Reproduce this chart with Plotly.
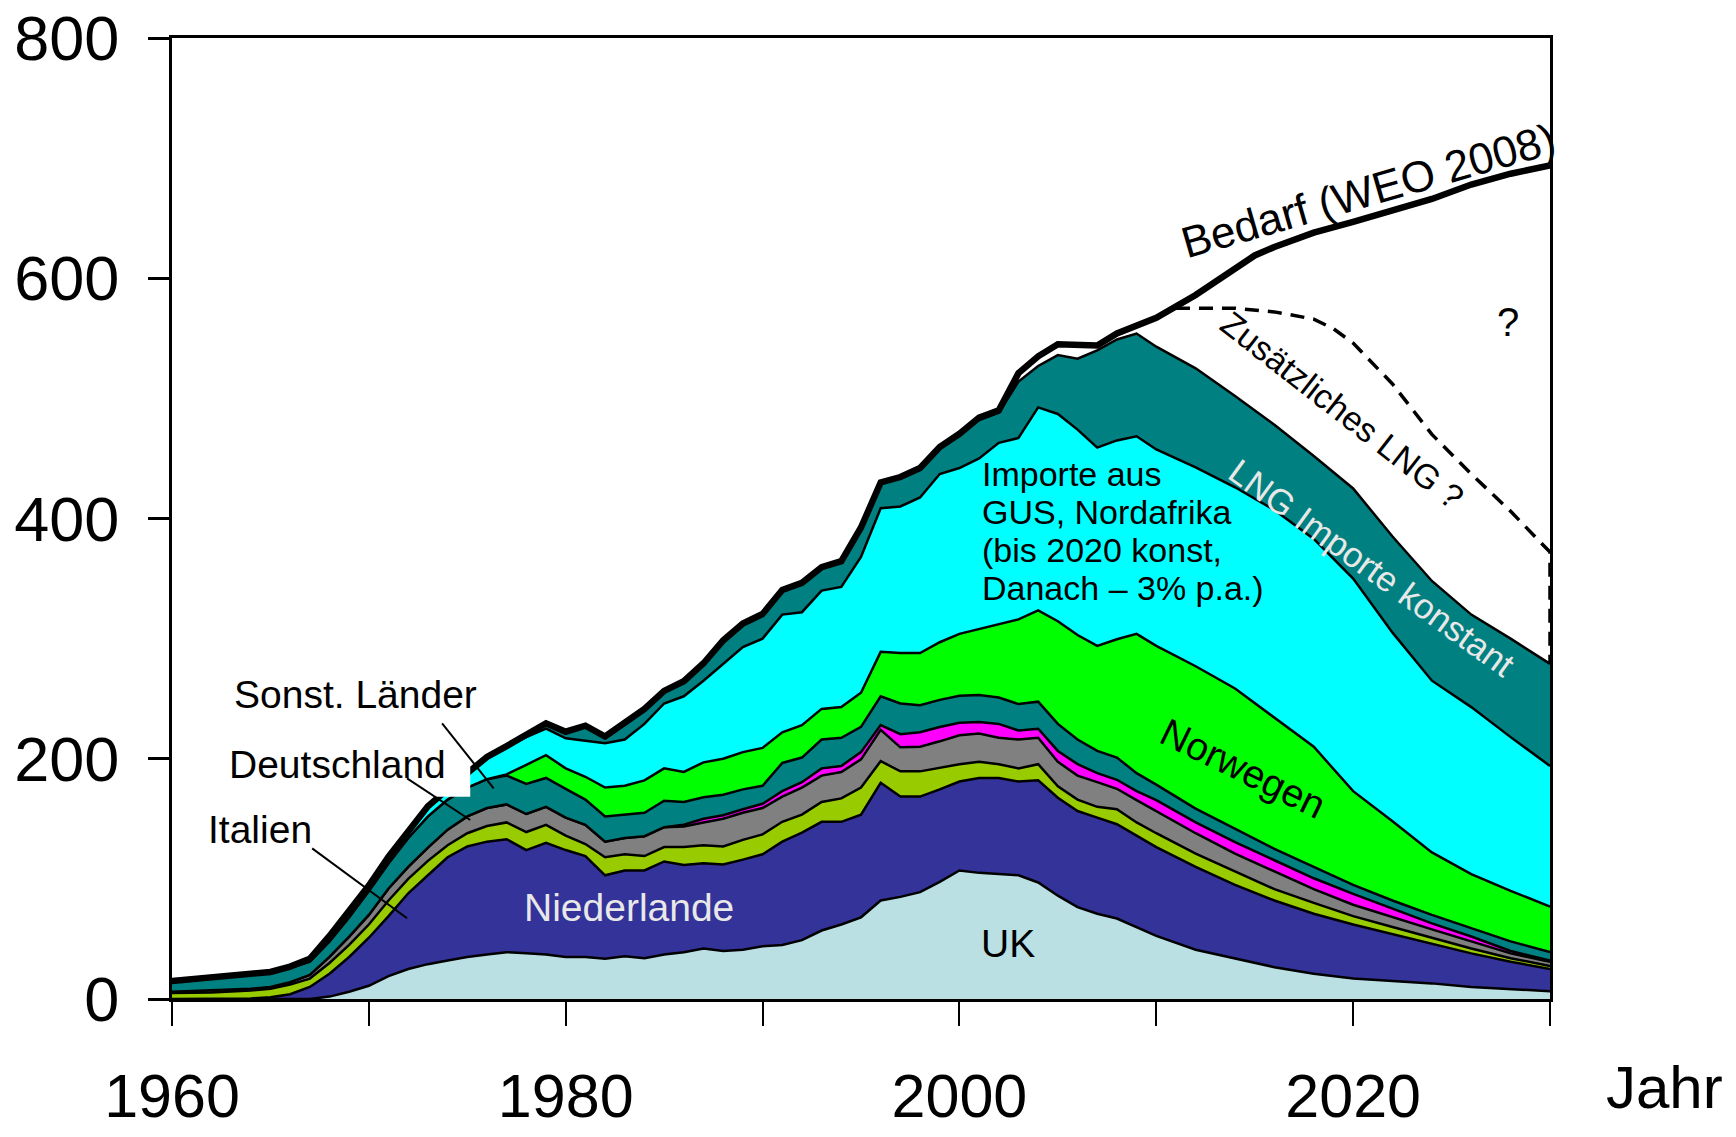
import plotly.graph_objects as go

# ---------------- data (Mrd. m3 / a) ----------------
years = [1960, 1962, 1964, 1965, 1966, 1967, 1968, 1969, 1970, 1971, 1972, 1973, 1974,
         1975, 1976, 1977, 1978, 1979, 1980, 1981, 1982, 1983, 1984, 1985, 1986, 1987,
         1988, 1989, 1990, 1991, 1992, 1993, 1994, 1995, 1996, 1997, 1998, 1999, 2000,
         2001, 2002, 2003, 2004, 2005, 2006, 2007, 2008, 2009, 2010, 2012, 2014, 2016,
         2018, 2020, 2022, 2024, 2026, 2028, 2030]

uk = [0, 0, 0, 0, 0, 0, 2, 6, 11, 19, 25, 29, 32, 35, 37, 39, 38, 37, 35, 35,
      33.5, 35.5, 34, 37, 39, 42, 40, 41, 44, 45, 49, 57, 62, 68, 82, 85, 89, 97.5, 107,
      105, 104, 103, 97, 86, 76.5, 71, 67, 60, 52.5,
      41, 34, 26.5, 21, 17, 15, 13, 10, 8, 6.5]

niederlande = [0, 0, 0.5, 1.5, 4, 10, 19, 29, 40, 50, 63, 74, 86, 92, 94, 94, 86, 93, 89, 84,
               69.5, 71.5, 73, 77.5, 72.5, 71, 72, 75, 76.5, 86, 89.5, 90.5, 85.5, 85.5, 98,
               83.5, 79.5, 77, 74, 79, 80, 78, 85, 81.5, 80, 80, 78.5, 76, 74,
               69, 61, 55.5, 50, 45, 39, 33, 28, 23, 18.5]

italien = [5, 5.5, 6.5, 7, 8, 7, 9, 10, 11, 13, 12, 12, 10, 11, 13, 14, 15, 15, 12, 10,
           15, 13.5, 12, 12, 15, 15, 15, 16.5, 16.5, 16.5, 15, 16.5, 19.5, 22.5, 18, 21, 21,
           18, 14.5, 13.5, 11.5, 11, 13.5, 9.5, 9.5, 9, 12.5, 11, 11.5,
           11, 11, 9.5, 9, 7, 6, 5, 4, 3, 2.5]

deutschland = [1, 1.5, 1.5, 1.5, 2, 3, 5, 7, 8, 10, 10, 11, 13, 14, 15, 15, 15, 15, 15, 16,
               13, 13.5, 16.5, 16.5, 17, 19, 23, 22.5, 22, 21, 22.5, 22, 22, 23.5, 26, 20,
               20.5, 22, 24, 23.5, 22, 24, 22, 20.5, 20, 20.5, 17, 18.5, 18.5,
               17, 15, 14.5, 11.5, 9.5, 8, 7, 6, 4, 3.5]

sonstige_magenta = [0, 0, 0, 0, 0, 0, 0, 0, 0, 0, 0, 0, 0, 0, 0, 0, 0, 0, 0, 0,
                    0, 0, 0, 0, 1.5, 3, 3, 3, 3.5, 4.5, 4.5, 6, 5, 6, 4, 11, 12, 12, 10.5,
                    9.5, 11.5, 7.5, 7.5, 9, 9.5, 7.5, 7.5, 7.5, 9,
                    9, 9.5, 9.5, 9, 9, 7, 5, 4, 2, 1]

sonst_laender = [8, 10, 11.5, 12, 12, 11, 13, 16, 20, 21, 24, 26, 25, 24, 24, 24, 25, 24, 24, 21,
                 21, 19.5, 19.5, 22, 19, 18, 17, 16.5, 15, 23.5, 20.5, 24, 23.5, 21, 24, 25.5,
                 22.5, 22.5, 22.5, 22.5, 22, 22, 22.5, 22.5, 20.5, 18.5, 18.5, 15, 13,
                 11.5, 11, 9.5, 9.5, 7.5, 7, 7, 7, 8, 7]

norwegen = [0, 0, 0, 0, 0, 0, 0, 0, 0, 0, 0, 0, 0, 0, 0, 1, 16, 19, 17, 19,
            24, 24, 27, 27, 25, 29, 30, 31, 31.5, 25.5, 27, 25.5, 25.5, 28.5, 37, 42, 43.5,
            48, 51.5, 55, 61.5, 70.5, 76, 85.5, 87, 87.5, 98.5, 116, 115.5,
            118.5, 117, 109.5, 100, 78, 66, 52, 45, 42, 38]

gus_nordafrika = [0, 0, 0, 0, 0.5, 2, 4, 4, 4, 5, 6, 8, 8, 12, 18, 23, 23, 22, 25, 30,
                  37, 38.5, 47, 54, 63, 68, 79, 87.5, 91, 98, 94, 98.5, 100, 113, 119.5, 122,
                  129.5, 140, 138, 142, 150.5, 151, 169, 172.5, 171, 165, 165.5, 164.5, 163.5,
                  165.5, 167.5, 172.5, 173, 177, 157, 143, 139, 128, 117]

lng = [0, 0, 0, 0, 0, 0, 0, 0, 0, 0, 0, 0, 0, 0, 0, 0, 1, 4, 5, 12,
       5, 13, 12, 10, 12, 14, 19, 19, 20, 20, 24, 19, 21, 24, 21, 24, 24, 22, 28,
       32, 25, 47, 34.5, 49, 59, 81, 84, 85.5, 85.5,
       82.5, 76, 71, 69, 75, 80, 83, 77, 82, 85]

bedarf_years = [1960, 1962, 1964, 1965, 1966, 1967, 1968, 1969, 1970, 1971, 1972, 1973, 1974,
                1975, 1976, 1977, 1978, 1979, 1980, 1981, 1982, 1983, 1984, 1985, 1986, 1987,
                1988, 1989, 1990, 1991, 1992, 1993, 1994, 1995, 1996, 1997, 1998, 1999, 2000,
                2001, 2002, 2003, 2004, 2005, 2006, 2007, 2008, 2009, 2010, 2012, 2014, 2015,
                2016, 2018, 2020, 2022, 2024, 2026, 2028, 2030]
bedarf = [15, 17.5, 20.5, 22.5, 27, 33.5, 52.5, 72.5, 94.5, 118.5, 140.5, 160.5, 174.5,
          188.5, 201.5, 210.5, 219.5, 229.5, 222.5, 227.5, 218.5, 229.5, 241.5, 256.5, 264.5,
          279.5, 298.5, 312.5, 320.5, 340.5, 346.5, 359.5, 364.5, 392.5, 430, 434.5, 442,
          459.5, 470.5, 484, 490, 521, 535, 545, 545, 544, 554, 560, 567, 586, 607, 619,
          626, 638, 647, 656, 666, 678, 687, 694]

lng_extra_years = [2011, 2014, 2016, 2018, 2019, 2020, 2022, 2024, 2026, 2028, 2030, 2030]
lng_extra = [575, 575, 572, 566, 558, 546, 512, 470, 437, 406, 372, 279]

x_tick_vals = [1960, 1970, 1980, 1990, 2000, 2010, 2020, 2030]
x_tick_text = ["1960", "", "1980", "", "2000", "", "2020", ""]
y_tick_vals = [0, 200, 400, 600, 800]

FONT = "Liberation Sans, Arial, Helvetica, sans-serif"

layers = [
    ("UK", uk, "#BAE0E4"),
    ("Niederlande", niederlande, "#333399"),
    ("Italien", italien, "#99CC00"),
    ("Deutschland", deutschland, "#808080"),
    ("Sonstige", sonstige_magenta, "#FF00FF"),
    ("Sonst. Länder", sonst_laender, "#008080"),
    ("Norwegen", norwegen, "#00FF00"),
    ("Importe GUS, Nordafrika", gus_nordafrika, "#00FFFF"),
    ("LNG Importe", lng, "#008080"),
]

fig = go.Figure()
for name, vals, col in layers:
    fig.add_trace(go.Scatter(x=years, y=vals, name=name, stackgroup="one", mode="lines",
                             line=dict(color="black", width=2.5), fillcolor=col,
                             hoverinfo="skip"))

fig.add_trace(go.Scatter(x=lng_extra_years, y=lng_extra, mode="lines", name="Zusätzliches LNG",
                         line=dict(color="black", width=3.5, dash="14px,9px")))
fig.add_trace(go.Scatter(x=bedarf_years, y=bedarf, mode="lines", name="Bedarf",
                         line=dict(color="black", width=6.5)))

fig.update_layout(
    width=1736, height=1137,
    margin=dict(l=172, r=186, t=38, b=138, autoexpand=False),
    paper_bgcolor="white", plot_bgcolor="white",
    showlegend=False,
    font=dict(family=FONT, color="black"),
)
fig.update_xaxes(range=[1960, 2030], tickvals=x_tick_vals, ticktext=x_tick_text,
                 ticks="outside", ticklen=24, tickwidth=2, tickcolor="black",
                 showline=True, linewidth=3, linecolor="black", mirror=True,
                 showgrid=False, zeroline=False, tickfont=dict(size=61, family=FONT),
                 ticklabelstandoff=18, automargin=False)
fig.update_yaxes(range=[0, 800], tickvals=y_tick_vals,
                 ticks="outside", ticklen=21, tickwidth=3, tickcolor="black",
                 showline=True, linewidth=3, linecolor="black", mirror=True,
                 showgrid=False, zeroline=False, tickfont=dict(size=63, family=FONT),
                 ticklabelstandoff=16, automargin=False)

# white label background box (hides part of the stack, as in the original)
shapes = [
    dict(type="rect", xref="x", yref="y", x0=1962, x1=1975.15, y0=168.4, y1=212,
         fillcolor="white", line=dict(width=0), layer="above"),
    dict(type="line", xref="x", yref="y", x0=1973.72, y0=229.5, x1=1976.34, y1=175.4,
         line=dict(color="black", width=2), layer="above"),
    dict(type="line", xref="x", yref="y", x0=1971.94, y0=183.7, x1=1975.15, y1=149,
         line=dict(color="black", width=2), layer="above"),
    dict(type="line", xref="x", yref="y", x0=1967.12, y0=125.4, x1=1971.94, y1=67.2,
         line=dict(color="black", width=2), layer="above"),
]
fig.update_layout(shapes=shapes)


def label(text, x, y, size, angle=0, color="black", xanchor="center", xref="x", yref="y"):
    fig.add_annotation(text=text, x=x, y=y, xref=xref, yref=yref, showarrow=False,
                       textangle=angle, xanchor=xanchor, yanchor="middle",
                       font=dict(size=size, color=color, family=FONT))


label("Bedarf (WEO 2008)", 2020.76, 673.4, 44, angle=-16)
label("?", 2027.87, 564, 40)
label("Zusätzliches LNG ?", 2019.44, 490.3, 34, angle=38)
label("LNG Importe konstant", 2020.96, 359.6, 35, angle=36, color="#E8E8E8")
label("Norwegen", 2014.42, 191.5, 39, angle=26)
label("Niederlande", 1983.23, 75.8, 39, color="#E8E8E8")
label("UK", 2002.48, 46.6, 39)
label("Sonst. Länder", 1969.31, 253.9, 39)
label("Deutschland", 1968.43, 195.6, 39)
label("Italien", 1964.46, 141.5, 39)
label("Importe aus", 2001.06, 437, 34, xanchor="left")
label("GUS, Nordafrika", 2001.06, 405.8, 34, xanchor="left")
label("(bis 2020 konst,", 2001.06, 373.8, 34, xanchor="left")
label("Danach – 3% p.a.)", 2001.06, 342.1, 34, xanchor="left")
label("Jahr", 1.0834, -0.0916, 60, xref="paper", yref="paper")

fig.write_html("out.html", config={"displayModeBar": False},
               post_script="document.body.style.margin='0';")
